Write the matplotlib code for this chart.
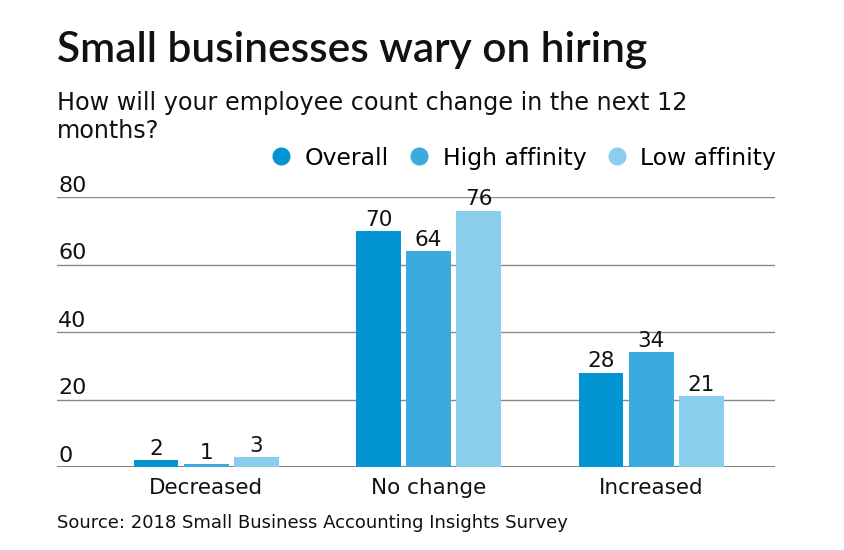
import matplotlib
matplotlib.use("Agg")
import matplotlib.pyplot as plt
import numpy as np
from matplotlib.lines import Line2D

categories = ["Decreased", "No change", "Increased"]
series_names = ["Overall", "High affinity", "Low affinity"]
overall = [2, 70, 28]
high_affinity = [1, 64, 34]
low_affinity = [3, 76, 21]
yticks = [0, 20, 40, 60, 80]

colors = ["#0395d1", "#3aabdd", "#89ceec"]
plt.rcParams['font.family'] = ['DejaVu Sans']

fig = plt.figure(figsize=(8.44, 5.5), dpi=100)
ax = fig.add_axes([57/844, 1-467/550, (775-57)/844, (467-197)/550])

x = np.arange(len(categories))
w = 0.202
step = 0.225
for i, (vals, c) in enumerate(zip([overall, high_affinity, low_affinity], colors)):
    xs = x + (i-1)*step
    ax.bar(xs, vals, width=w, color=c, zorder=3)
    for xx, v in zip(xs, vals):
        ax.text(xx, v + 1.5, str(v), ha='center', va='baseline', fontsize=15.5, color='#111111', zorder=4)

ax.set_xlim(-0.67, 2.557)
ax.set_ylim(0, 80)
for t in yticks:
    lw = 1.2 if t == 0 else 1.0
    col = '#666666' if t == 0 else '#8a8a8a'
    ax.axhline(t, color=col, lw=lw, zorder=2)
    ax.text(-0.665, t + 1.6, str(t), ha='left', va='baseline', fontsize=16, color='#111111')
ax.set_yticks([])
ax.set_xticks(x)
ax.set_xticklabels(categories, fontsize=15.5, color='#111111')
ax.tick_params(axis='x', length=0, pad=8)
for s in ax.spines.values():
    s.set_visible(False)

fig.text(57/844, 1-62/550, "Small businesses wary on hiring", fontsize=30.5, fontweight='semibold',
         family=['Lato', 'DejaVu Sans'], ha='left', va='baseline', color='#111111')
fig.text(57/844, 1-110/550, "How will your employee count change in the next 12", fontsize=17.2,
         ha='left', va='baseline', color='#111111')
fig.text(57/844, 1-138/550, "months?", fontsize=17.2,
         ha='left', va='baseline', color='#111111')
fig.text(57/844, 1-528/550, "Source: 2018 Small Business Accounting Insights Survey", fontsize=13,
         ha='left', va='baseline', color='#111111')

handles = [Line2D([0], [0], marker='o', linestyle='', markersize=12, color=c) for c in colors]
fig.legend(handles, series_names, loc='center right', bbox_to_anchor=(776/844, 1-158/550), ncol=3,
           frameon=False, fontsize=16.9, handlelength=0.8, handletextpad=0.6, columnspacing=0.9,
           borderpad=0, borderaxespad=0)

fig.savefig("out.png", dpi=100)
